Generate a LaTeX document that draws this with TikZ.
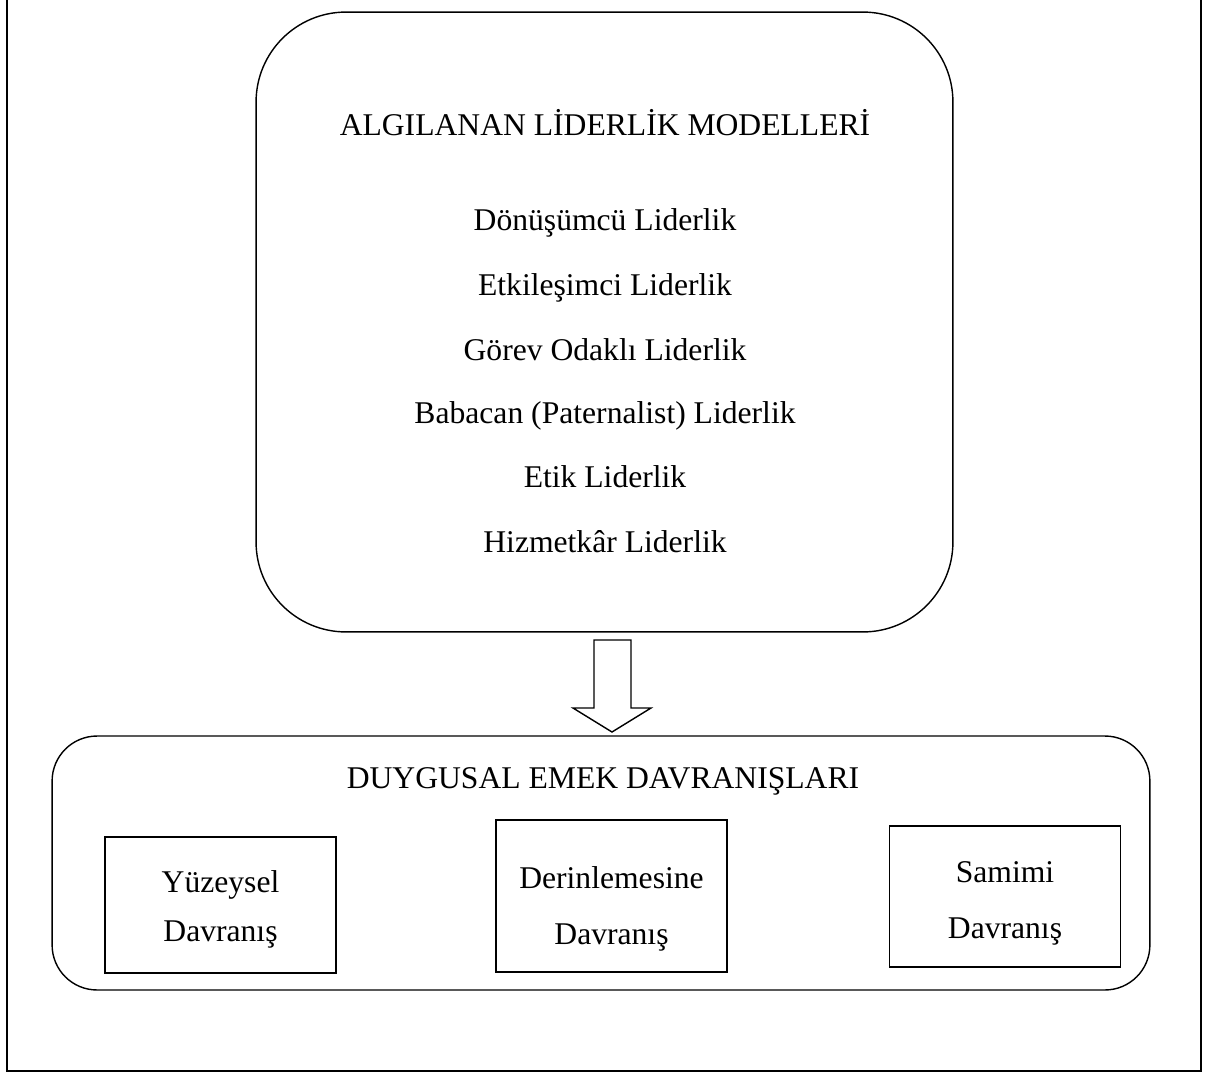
\documentclass[tikz,border=0pt]{standalone}
\usepackage{fontspec}
\setmainfont{Liberation Serif}
\usepackage{tikz}
\usetikzlibrary{positioning, calc}

\begin{document}
\begin{tikzpicture}[x=0.02cm, y=-0.02cm,
    bigbox/.style={draw=black, line width=0.8pt, rounded corners=1.8cm,
        minimum width=13.94cm, minimum height=12.4cm},
    widebox/.style={draw=black, line width=0.8pt, rounded corners=0.9cm,
        minimum width=21.96cm, minimum height=5.08cm},
    kindbox/.style={draw=black, line width=0.8pt,
        minimum width=4.62cm, minimum height=2.8cm},
    kindtext/.style={align=center, inner sep=0pt, font=\fontsize{18}{32}\selectfont},
    label/.style={font=\fontsize{18}{22}\selectfont, anchor=center,
        text height=1.6ex, text depth=0.4ex}]
    \useasboundingbox (0,0) rectangle (1208,1079);

    % Outer frame (open at the top)
    \draw[line width=1pt] (7,0) |- (1201,1071) -- (1201,0);

    % Leadership models
    \node[bigbox] (models) at (604.5,322) {};
    \node[label] (mtitle) at (605,131) {ALGILANAN LİDERLİK MODELLERİ};
    \node[label] (m1) at (605,226) {Dönüşümcü Liderlik};
    \node[label] (m2) at (605,291) {Etkileşimci Liderlik};
    \node[label] (m3) at (605,356) {Görev Odaklı Liderlik};
    \node[label] (m4) at (605,419) {Babacan (Paternalist) Liderlik};
    \node[label] (m5) at (605,483) {Etik Liderlik};
    \node[label] (m6) at (605,548) {Hizmetkâr Liderlik};

    % Emotional labour behaviours
    \node[widebox] (labour) at (601,863) {};
    \node[label] (ltitle) at (603,784) {DUYGUSAL EMEK DAVRANIŞLARI};
    \node[kindbox, minimum height=2.72cm] (surface) at (220.5,905) {};
    \node[kindbox, minimum height=3.04cm] (deep) at (611.5,896) {};
    \node[kindbox, minimum height=2.82cm] (genuine) at (1005,896.5) {};
    \node[kindtext, font=\fontsize{18}{28}\selectfont] (surfacetext) at (220.5,909) {Yüzeysel\\Davranış};
    \node[kindtext] (deeptext) at (611.5,909) {Derinlemesine\\Davranış};
    \node[kindtext] (genuinetext) at (1005,903) {Samimi\\Davranış};

    % Block arrow
    \draw[line width=0.8pt, line join=miter]
        (594,640) -- (631,640) -- (631,708) -- (651,708) -- (612,732)
        -- (573,708) -- (594,708) -- cycle;
\end{tikzpicture}
\end{document}
